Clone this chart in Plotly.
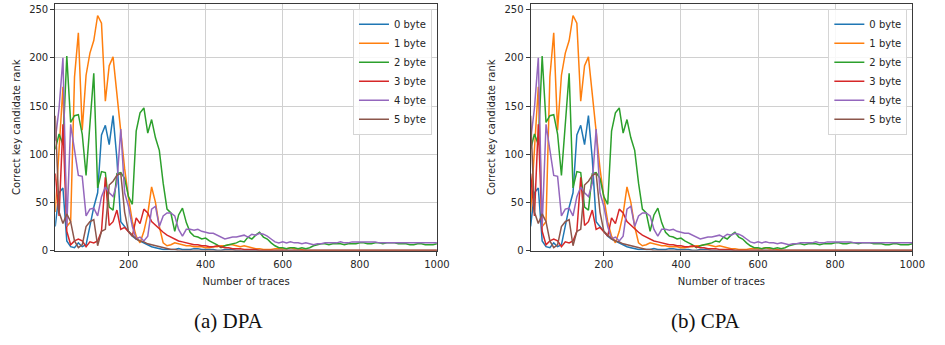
import plotly.graph_objects as go

# ---------------- data ----------------
traces_x = list(range(10, 1001, 10))
series_names = ["0 byte", "1 byte", "2 byte", "3 byte", "4 byte", "5 byte"]
colors = ["#1f77b4", "#ff7f0e", "#2ca02c", "#d62728", "#9467bd", "#8c564b"]

byte0 = [25, 60, 65, 10, 4, 3, 8, 4, 6, 25,
         45, 60, 120, 130, 110, 140, 95, 30, 25, 20,
         15, 12, 10, 8, 6, 4, 3, 2, 1, 1,
         1, 1, 2, 1, 1, 1, 2, 2, 1, 1,
         1, 1, 0, 0, 1, 1, 1, 0, 0, 0,
         0, 0, 0, 0, 0, 0, 0, 0, 0, 0,
         0, 0, 0, 0, 0, 0, 0, 0, 0, 0,
         0, 0, 0, 0, 0, 0, 0, 0, 0, 0,
         0, 0, 0, 0, 0, 0, 0, 0, 0, 0,
         0, 0, 0, 0, 0, 0, 0, 0, 0, 0]

byte1 = [40, 110, 170, 25, 30, 180, 226, 125, 182, 205,
         218, 244, 236, 155, 192, 201, 160, 125, 85, 55,
         30, 15, 8, 20, 38, 66, 50, 25, 8, 5,
         6, 8, 7, 6, 5, 5, 4, 4, 4, 3,
         3, 4, 4, 5, 5, 6, 6, 5, 4, 5,
         4, 3, 2, 2, 1, 1, 1, 2, 2, 2,
         2, 3, 2, 2, 1, 0, 0, 0, 0, 0,
         0, 0, 0, 0, 0, 0, 0, 0, 0, 0,
         0, 0, 0, 0, 0, 0, 0, 0, 0, 0,
         0, 0, 0, 0, 0, 0, 0, 0, 0, 0]

byte2 = [105, 121, 110, 202, 133, 140, 141, 121, 78, 134,
         184, 65, 82, 81, 45, 42, 80, 81, 75, 56,
         48, 124, 143, 148, 122, 136, 117, 104, 70, 43,
         39, 20, 37, 44, 29, 19, 15, 14, 12, 13,
         10, 8, 6, 3, 5, 6, 7, 8, 10, 9,
         14, 12, 16, 19, 14, 12, 8, 5, 3, 3,
         2, 3, 3, 2, 3, 2, 3, 5, 6, 7,
         7, 6, 7, 7, 7, 6, 7, 7, 7, 8,
         8, 7, 7, 8, 8, 7, 8, 8, 8, 7,
         7, 7, 6, 6, 7, 7, 6, 6, 6, 7]

byte3 = [80, 36, 131, 20, 6, 10, 12, 10, 4, 9,
         8, 10, 20, 76, 26, 30, 42, 22, 24, 20,
         15, 34, 28, 43, 39, 30, 26, 22, 19, 16,
         14, 12, 10, 9, 8, 7, 6, 6, 5, 5,
         4, 4, 5, 4, 3, 3, 2, 2, 2, 1,
         1, 1, 1, 0, 0, 0, 0, 0, 0, 0,
         0, 0, 0, 0, 0, 0, 0, 0, 0, 0,
         0, 0, 0, 0, 0, 0, 0, 0, 0, 0,
         0, 0, 0, 0, 0, 0, 0, 0, 0, 0,
         0, 0, 0, 0, 0, 0, 0, 0, 0, 0]

byte4 = [114, 148, 200, 25, 131, 104, 78, 77, 36, 43,
         44, 36, 56, 66, 60, 56, 70, 126, 60, 46,
         25, 12, 14, 10, 15, 43, 46, 25, 36, 39,
         39, 36, 22, 15, 22, 22, 21, 22, 20, 19,
         18, 18, 16, 14, 12, 13, 14, 14, 15, 16,
         14, 17, 16, 18, 17, 15, 12, 9, 8, 9,
         8, 9, 8, 8, 7, 8, 7, 6, 7, 7,
         8, 8, 8, 8, 9, 8, 8, 9, 9, 9,
         9, 9, 9, 9, 8, 8, 8, 8, 8, 8,
         8, 8, 8, 8, 8, 8, 8, 8, 8, 8]

byte5 = [140, 40, 28, 38, 30, 10, 3, 6, 25, 30,
         32, 5, 20, 22, 68, 72, 78, 80, 40, 20,
         16, 12, 10, 9, 7, 6, 5, 4, 3, 2,
         1, 1, 0, 0, 0, 0, 0, 0, 0, 0,
         0, 0, 0, 0, 0, 0, 0, 0, 0, 0,
         0, 0, 0, 0, 0, 0, 0, 0, 0, 0,
         0, 0, 0, 0, 0, 0, 0, 0, 0, 0,
         0, 0, 0, 0, 0, 0, 0, 0, 0, 0,
         0, 0, 0, 0, 0, 0, 0, 0, 0, 0,
         0, 0, 0, 0, 0, 0, 0, 0, 0, 0]

dpa_series = [byte0, byte1, byte2, byte3, byte4, byte5]
cpa_series = [byte0, byte1, byte2, byte3, byte4, byte5]

x_ticks = [200, 400, 600, 800, 1000]
y_ticks = [0, 50, 100, 150, 200, 250]
panel_captions = ["(a) DPA", "(b) CPA"]
x_title = "Number of traces"
y_title = "Correct key candidate rank"

# ---------------- figure ----------------
W, H = 945, 345
fig = go.Figure()

panels = [("x", "y", "legend", dpa_series), ("x2", "y2", "legend2", cpa_series)]
for xa, ya, lg, data in panels:
    for name, col, vals in zip(series_names, colors, data):
        fig.add_trace(go.Scatter(
            x=traces_x, y=vals, name=name, mode="lines",
            line=dict(color=col, width=1.5),
            xaxis=xa, yaxis=ya, legend=lg,
        ))

tick_font = dict(family="DejaVu Sans", size=10, color="#262626")
axis_common = dict(
    showgrid=True, gridcolor="#d0d0d0", gridwidth=1,
    showline=True, linecolor="#3a3a3a", linewidth=1, mirror=True,
    ticks="outside", ticklen=4, tickcolor="#3a3a3a",
    tickfont=tick_font, zeroline=False,
)

def px_x(p):
    return p / W

def px_y(p):
    return 1 - p / H

xdom1 = [px_x(56), px_x(443)]
xdom2 = [px_x(538), px_x(925)]
ydom = [px_y(255), px_y(4)]

for i, (xd, anchor_y, anchor_x) in enumerate([(xdom1, "y", "x"), (xdom2, "y2", "x2")]):
    suffix = "" if i == 0 else "2"
    fig.update_layout(**{
        "xaxis" + suffix: dict(
            domain=xd, anchor=anchor_y, range=[10, 1000],
            tickvals=x_ticks,
            title=dict(text=x_title, font=tick_font, standoff=9),
            **axis_common),
        "yaxis" + suffix: dict(
            domain=ydom, anchor=anchor_x, range=[0, 256],
            tickvals=y_ticks,
            title=dict(text=y_title, font=tick_font, standoff=6),
            **axis_common),
    })

legend_common = dict(
    bgcolor="rgba(255,255,255,0.85)", bordercolor="#d5d5d5", borderwidth=1,
    font=dict(family="DejaVu Sans", size=10, color="#262626"),
    xanchor="right", yanchor="top", tracegroupgap=0,
)
fig.update_layout(
    legend=dict(x=px_x(438), y=px_y(9), **legend_common),
    legend2=dict(x=px_x(920), y=px_y(9), **legend_common),
)

for cap, cx in zip(panel_captions, [232, 715]):
    fig.add_annotation(
        text=cap, x=px_x(cx), y=px_y(327), xref="paper", yref="paper",
        showarrow=False, xanchor="center", yanchor="middle",
        font=dict(family="Liberation Serif", size=21, color="#111111"),
    )

fig.update_layout(
    width=W, height=H, margin=dict(l=0, r=0, t=0, b=0),
    paper_bgcolor="white", plot_bgcolor="white",
    showlegend=True,
)

fig.write_html("out.html")
